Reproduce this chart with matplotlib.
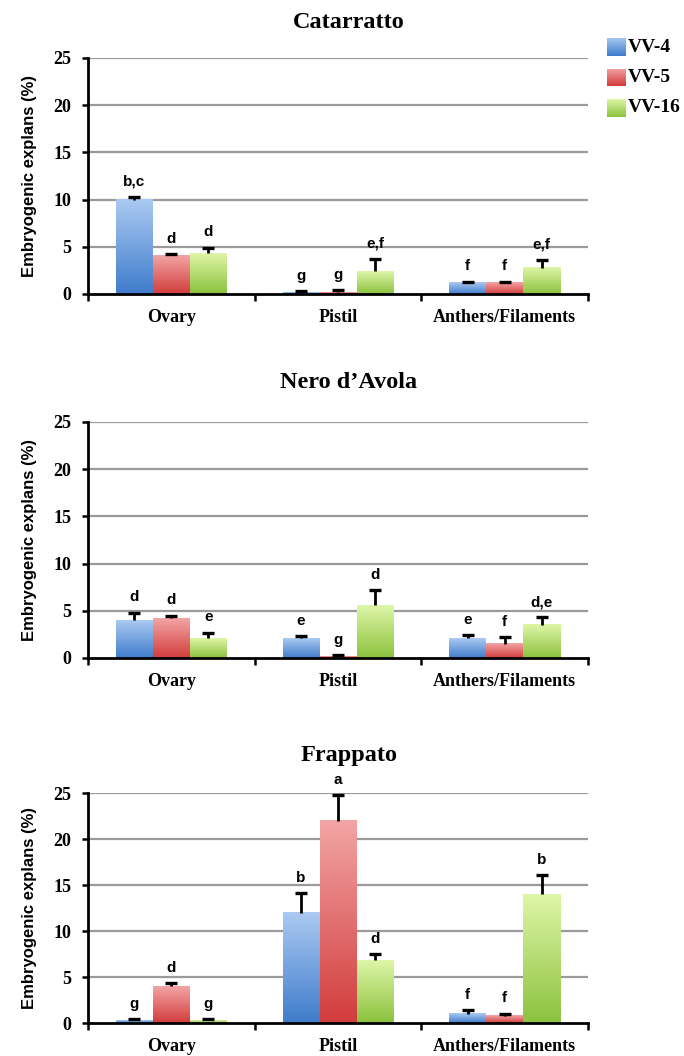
import numpy as np
import matplotlib
matplotlib.use("Agg")
import matplotlib.pyplot as plt
from matplotlib.colors import LinearSegmentedColormap

# ---------------- data ----------------
categories = ["Ovary", "Pistil", "Anthers/Filaments"]
series = ["VV-4", "VV-5", "VV-16"]
titles = ["Catarratto", "Nero d\u2019Avola", "Frappato"]

# Catarratto
cat_vv4 = [10.0, 0.2, 1.2]
cat_vv5 = [4.1, 0.2, 1.2]
cat_vv16 = [4.3, 2.4, 2.8]
cat_err_vv4 = [0.3, 0.1, 0.1]
cat_err_vv5 = [0.1, 0.2, 0.1]
cat_err_vv16 = [0.6, 1.3, 0.8]
cat_let_vv4 = ["b,c", "g", "f"]
cat_let_vv5 = ["d", "g", "f"]
cat_let_vv16 = ["d", "e,f", "e,f"]

# Nero d'Avola
nero_vv4 = [4.0, 2.1, 2.1]
nero_vv5 = [4.2, 0.2, 1.5]
nero_vv16 = [2.1, 5.6, 3.5]
nero_err_vv4 = [0.8, 0.2, 0.3]
nero_err_vv5 = [0.3, 0.1, 0.7]
nero_err_vv16 = [0.6, 1.6, 0.8]
nero_let_vv4 = ["d", "e", "e"]
nero_let_vv5 = ["d", "g", "f"]
nero_let_vv16 = ["e", "d", "d,e"]

# Frappato
frap_vv4 = [0.3, 12.0, 1.0]
frap_vv5 = [4.0, 22.0, 0.8]
frap_vv16 = [0.3, 6.8, 14.0]
frap_err_vv4 = [0.1, 2.1, 0.4]
frap_err_vv5 = [0.3, 2.8, 0.2]
frap_err_vv16 = [0.1, 0.7, 2.1]
frap_let_vv4 = ["g", "b", "f"]
frap_let_vv5 = ["d", "a", "f"]
frap_let_vv16 = ["g", "d", "b"]

yticks = [0, 5, 10, 15, 20, 25]

panels = [
    (titles[0], [cat_vv4, cat_vv5, cat_vv16], [cat_err_vv4, cat_err_vv5, cat_err_vv16],
     [cat_let_vv4, cat_let_vv5, cat_let_vv16]),
    (titles[1], [nero_vv4, nero_vv5, nero_vv16], [nero_err_vv4, nero_err_vv5, nero_err_vv16],
     [nero_let_vv4, nero_let_vv5, nero_let_vv16]),
    (titles[2], [frap_vv4, frap_vv5, frap_vv16], [frap_err_vv4, frap_err_vv5, frap_err_vv16],
     [frap_let_vv4, frap_let_vv5, frap_let_vv16]),
]

# ---------------- style ----------------
light = ["#abcaf2", "#f3a5a5", "#def6a8"]
dark = ["#3f7ccc", "#d23c3c", "#8cc23e"]
cmaps = [LinearSegmentedColormap.from_list(f"g{i}", [dark[i], light[i]]) for i in range(3)]
grad = np.linspace(0, 1, 256).reshape(-1, 1)

serif = ["Liberation Serif", "DejaVu Serif"]
sans = ["Liberation Sans", "DejaVu Sans"]

fig = plt.figure(figsize=(6.84, 10.56), dpi=100)

W, H = 684.0, 1056.0
left_px, right_px = 88, 588
axes_px = [(58, 294), (422, 658), (793, 1023)]
title_px = [22, 383, 755]

bar_w = 0.222
offsets = [-bar_w, 0.0, bar_w]

for (title, vals, errs, lets), (ytop, ybot), ty in zip(panels, axes_px, title_px):
    ax = fig.add_axes([left_px / W, 1 - ybot / H, (right_px - left_px) / W, (ybot - ytop) / H])
    for y in yticks[1:]:
        ax.axhline(y, color="#9a9a9a", lw=1.6, zorder=0)
    x = np.arange(len(categories))
    for s in range(3):
        for i in range(len(categories)):
            xc = x[i] + offsets[s]
            v = vals[s][i]
            ax.imshow(grad, extent=[xc - bar_w / 2, xc + bar_w / 2, 0, v], origin="lower",
                      cmap=cmaps[s], aspect="auto", zorder=2, interpolation="bilinear")
            e = errs[s][i]
            ax.vlines(xc, v, v + e, color="black", lw=2.0, zorder=3)
            ax.plot([xc], [v + e], marker="_", ms=8, mew=2.4, color="black", zorder=3)
            ax.annotate(lets[s][i], (xc, v + e), xytext=(0, 6), textcoords="offset points",
                        ha="center", va="bottom", fontsize=11, fontweight="bold",
                        family=sans, annotation_clip=False)
    ax.set_xlim(-0.5, 2.5)
    ax.set_ylim(0, 25)
    ax.set_aspect("auto")
    for sp in ["top", "right"]:
        ax.spines[sp].set_visible(False)
    ax.spines["left"].set_linewidth(2.0)
    ax.spines["bottom"].set_linewidth(2.0)
    ax.set_yticks(yticks)
    ax.set_yticklabels([str(t) for t in yticks], family=serif, fontweight="bold", fontsize=13)
    ax.tick_params(axis="y", direction="out", length=4, width=1.8, pad=8)
    ax.set_xticks([-0.5, 0.5, 1.5, 2.5])
    ax.set_xticklabels([])
    ax.tick_params(axis="x", which="major", direction="out", length=5, width=1.8)
    ax.set_xticks(x, minor=True)
    ax.set_xticklabels(categories, minor=True, family=serif, fontweight="bold", fontsize=13)
    ax.tick_params(axis="x", which="minor", length=0, pad=11)
    ax.set_ylabel("Embryogenic explans (%)", family=sans, fontweight="bold", fontsize=12,
                  labelpad=12)
    fig.text(349 / W, 1 - ty / H, title, ha="center", va="center",
             family=serif, fontweight="bold", fontsize=17.5)

# legend
leg_y = [47, 77.5, 108]
for s in range(3):
    yc = leg_y[s]
    lax = fig.add_axes([607 / W, 1 - (yc + 9) / H, 19 / W, 18 / H])
    lax.imshow(grad, cmap=cmaps[s], aspect="auto", origin="lower", interpolation="bilinear")
    lax.axis("off")
    fig.text(628 / W, 1 - yc / H, series[s], ha="left", va="center", family=serif,
             fontweight="bold", fontsize=14)

fig.savefig("out.png", dpi=100)
